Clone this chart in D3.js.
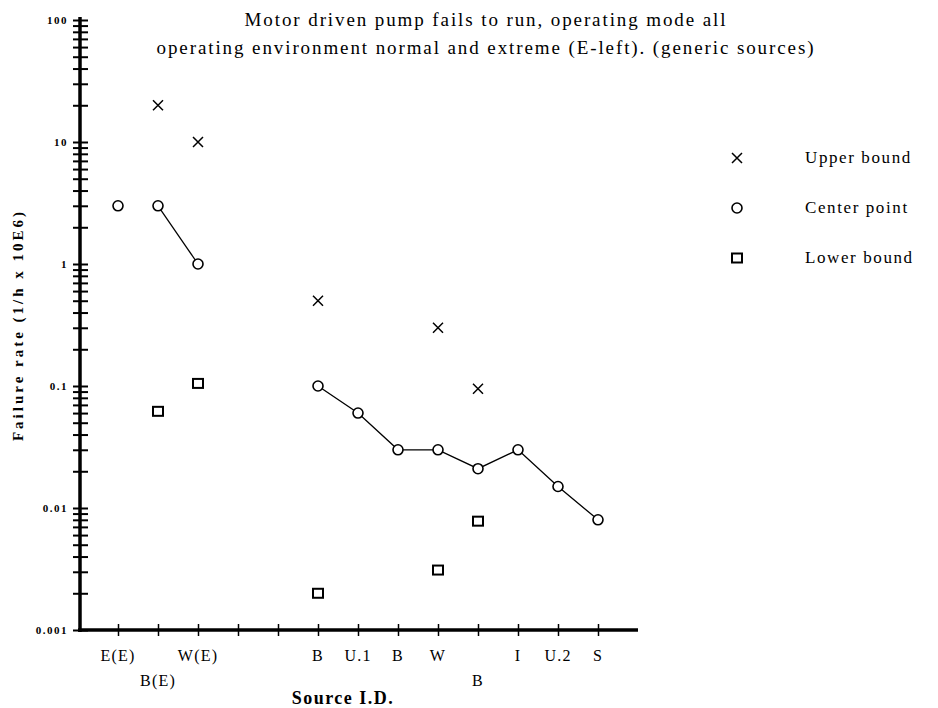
<!DOCTYPE html>
<html>
<head>
<meta charset="utf-8">
<script src="https://cdn.jsdelivr.net/npm/d3@7"></script>
<style>
  body { margin: 0; background: #fff; }
  svg { display: block; }
  text { font-family: "Liberation Serif", "DejaVu Serif", serif; fill: #000; }
</style>
</head>
<body>
<script>
// ---- data ----
const categories = ["E(E)", "B(E)", "W(E)", "", "", "B", "U.1", "B", "W", "B", "I", "U.2", "S"];
const labelRow   = [0, 1, 0, 0, 0, 0, 0, 0, 0, 1, 0, 0, 0];
const upperBound = [null, 20, 10, null, null, 0.5, null, null, 0.3, 0.095, null, null, null];
const centerPt   = [3, 3, 1, null, null, 0.1, 0.06, 0.03, 0.03, 0.021, 0.03, 0.015, 0.008];
const lowerBound = [null, 0.062, 0.105, null, null, 0.002, null, null, 0.0031, 0.0078, null, null, null];
const lineGroups = [[1, 2], [5, 6, 7, 8, 9, 10, 11, 12]];
const yTickLabels = ["0.001", "0.01", "0.1", "1", "10", "100"];
const titleLines = ["Motor driven pump fails to run, operating mode all",
                    "operating environment normal and extreme (E-left). (generic sources)"];
const legendItems = ["Upper bound", "Center point", "Lower bound"];

const W = 938, H = 708;
const svg = d3.select("body").append("svg").attr("width", W).attr("height", H);

const x = d3.scaleLinear().domain([0, categories.length + 1]).range([78, 638]);
const y = d3.scaleLog().domain([0.001, 100]).range([630, 20]);

// title
svg.append("g").selectAll("text").data(titleLines).join("text")
  .attr("x", 486).attr("y", (d, i) => 26 + i * 28)
  .attr("text-anchor", "middle").attr("font-size", 19).attr("letter-spacing", 1.9).text(d => d);

// y axis
const minorVals = [];
for (let e = -3; e < 2; e++) for (let m = 1; m < 10; m++) minorVals.push(m * Math.pow(10, e));
minorVals.push(100);
const yAxis = d3.axisLeft(y).tickValues(minorVals).tickSize(7).tickFormat("");
const gy = svg.append("g").attr("transform", "translate(80,0)").call(yAxis);
gy.select(".domain").attr("stroke-width", 3.5).attr("d", "M0,17V632");
gy.selectAll(".tick line").attr("x1", -7).attr("x2", 8).attr("stroke-width", 2);

svg.append("g").selectAll("text").data(yTickLabels).join("text")
  .attr("x", 68).attr("y", d => y(+d) + 4)
  .attr("text-anchor", "end").attr("font-size", 11).attr("font-weight", "bold").attr("letter-spacing", 1.5)
  .text(d => d);

// x axis
const xAxis = d3.axisBottom(x).tickValues(d3.range(1, categories.length + 1)).tickSize(6).tickFormat("");
const gx = svg.append("g").attr("transform", "translate(0,630)").call(xAxis);
gx.select(".domain").attr("stroke-width", 3.5).attr("d", "M78,0H638");
gx.selectAll(".tick line").attr("y1", -6).attr("y2", 6).attr("stroke-width", 1.5);

svg.append("g").selectAll("text").data(categories).join("text")
  .attr("x", (d, i) => x(i + 1)).attr("y", (d, i) => 661 + labelRow[i] * 25)
  .attr("text-anchor", "middle").attr("font-size", 16).attr("letter-spacing", 1.2).text(d => d);

svg.append("text").attr("x", 343).attr("y", 704).attr("text-anchor", "middle")
  .attr("font-size", 18).attr("font-weight", "bold").attr("letter-spacing", 1.5).text("Source I.D.");

svg.append("text").attr("transform", "translate(23,325) rotate(-90)")
  .attr("text-anchor", "middle").attr("font-size", 15).attr("font-weight", "bold")
  .attr("letter-spacing", 3)
  .text("Failure rate (1/h x 10E6)");

// lines
const line = d3.line().x(i => x(i + 1)).y(i => y(centerPt[i]));
svg.append("g").selectAll("path").data(lineGroups).join("path")
  .attr("d", line).attr("fill", "none").attr("stroke", "#000").attr("stroke-width", 1.3);

// symbols
const crossPath = s => `M${-s},${-s}L${s},${s}M${-s},${s}L${s},${-s}`;
function drawCross(g) { g.append("path").attr("d", crossPath(5)).attr("stroke", "#000").attr("stroke-width", 1.5).attr("fill", "none"); }
function drawCircle(g) { g.append("circle").attr("r", 5).attr("fill", "#fff").attr("stroke", "#000").attr("stroke-width", 1.6); }
function drawSquare(g) { g.append("rect").attr("x", -5).attr("y", -4.5).attr("width", 10).attr("height", 9).attr("fill", "#fff").attr("stroke", "#000").attr("stroke-width", 2); }

function plot(values, drawer) {
  values.forEach((v, i) => {
    if (v == null) return;
    const g = svg.append("g").attr("transform", `translate(${x(i + 1)},${y(v)})`);
    drawer(g);
  });
}
plot(upperBound, drawCross);
plot(centerPt, drawCircle);
plot(lowerBound, drawSquare);

// legend
const drawers = [drawCross, drawCircle, drawSquare];
legendItems.forEach((t, i) => {
  const g = svg.append("g").attr("transform", `translate(737,${158 + i * 50})`);
  drawers[i](g);
  g.append("text").attr("x", 68).attr("y", 5).attr("font-size", 17).attr("letter-spacing", 1.6).text(t);
});
</script>
</body>
</html>
